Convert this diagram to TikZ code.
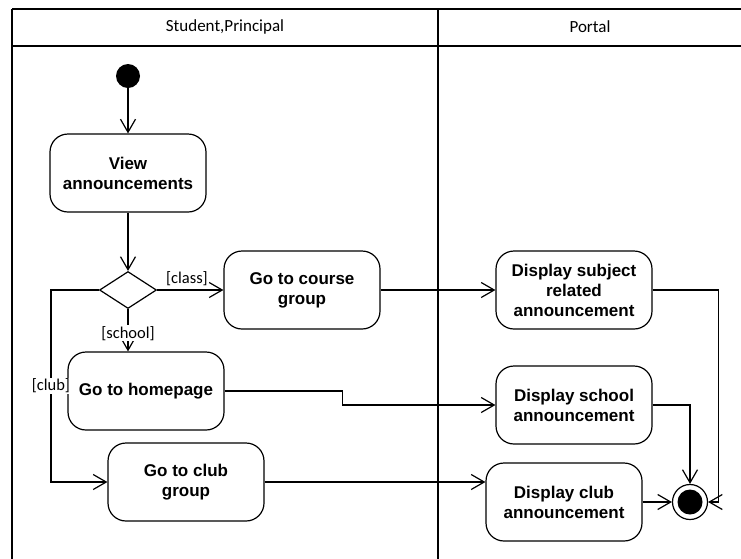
\documentclass[tikz,border=0pt]{standalone}
\usepackage{fontspec}
\setmainfont{Liberation Sans}
\newfontfamily\guardfont{Carlito}
\usepackage{tikz}
\usetikzlibrary{shapes,arrows.meta,positioning,calc}

\begin{document}
\begin{tikzpicture}[
    x=1pt, y=-1pt,
    >={Straight Barb[length=13pt, width=15pt]},
    action/.style={rectangle, draw, line width=1.2pt, rounded corners=18pt, minimum width=156pt, minimum height=78pt, align=center, font=\fontsize{17}{20}\selectfont\bfseries},
    decision/.style={diamond, draw, line width=1.2pt, minimum width=57pt, minimum height=37pt, inner sep=0pt},
    initial/.style={circle, fill=black, minimum size=24pt, inner sep=0pt},
    final/.style={circle, draw, line width=1.2pt, fill=white, minimum size=35pt, inner sep=0pt, path picture={\fill[black] (path picture bounding box.center) circle (12.5pt);}},
    lane/.style={font=\guardfont\fontsize{17}{20}\selectfont},
    guard/.style={font=\guardfont\fontsize{16.5}{18}\selectfont, inner sep=1pt},
    arrow/.style={->, line width=1.2pt},
    line/.style={line width=1.2pt}
]
\useasboundingbox (0,0) rectangle (741,558);

% swimlanes
\draw[line] (12,9) -- (742,9);
\draw[line] (12,46) -- (742,46);
\draw[line] (12,9) -- (12,559);
\draw[line] (438,9) -- (438,559);
\node[lane] (lane1) at (225,27) {Student,Principal};
\node[lane] (lane2) at (590,27) {Portal};

% Student, Principal
\node[initial] (start) at (128,76) {};
\node[action] (view) at (128,173) {View\\announcements};
\node[decision] (choice) at (128,290) {};
\node[action] (course) at (302,290) {Go to course\\group};
\node[action] (homepage) at (146,391) {Go to homepage};
\node[action] (club) at (186,482) {Go to club\\group};

% Portal
\node[action] (subject) at (574,290) {Display subject\\related\\announcement};
\node[action] (school) at (574,405) {Display school\\announcement};
\node[action] (clubinfo) at (564,502) {Display club\\announcement};
\node[final] (stop) at (690,502) {};

\draw[arrow] (start) -- (view);
\draw[arrow] (view) -- (choice);
\draw[arrow] (choice) -- node[guard, above, pos=0.45, yshift=3pt] {[class]} (course);
\draw[arrow] (choice.south) -- node[guard, fill=white, pos=0.57] {[school]} (choice.south |- homepage.north);
\draw[arrow] (choice.west) -- ++(-48,0) |- node[guard, fill=white, pos=0.25] {[club]} (club.west);

\draw[arrow] (course) -- (subject);
\draw[arrow] (homepage.east) -- ++(118,0) |- (school.west);
\draw[arrow] (club.east) -- (club.east -| clubinfo.west);

\draw[arrow] (subject.east) -- ++(66,0) |- (stop.east);
\draw[arrow] (school.east) -| (stop.north);
\draw[arrow] (clubinfo) -- (stop);

\end{tikzpicture}
\end{document}
